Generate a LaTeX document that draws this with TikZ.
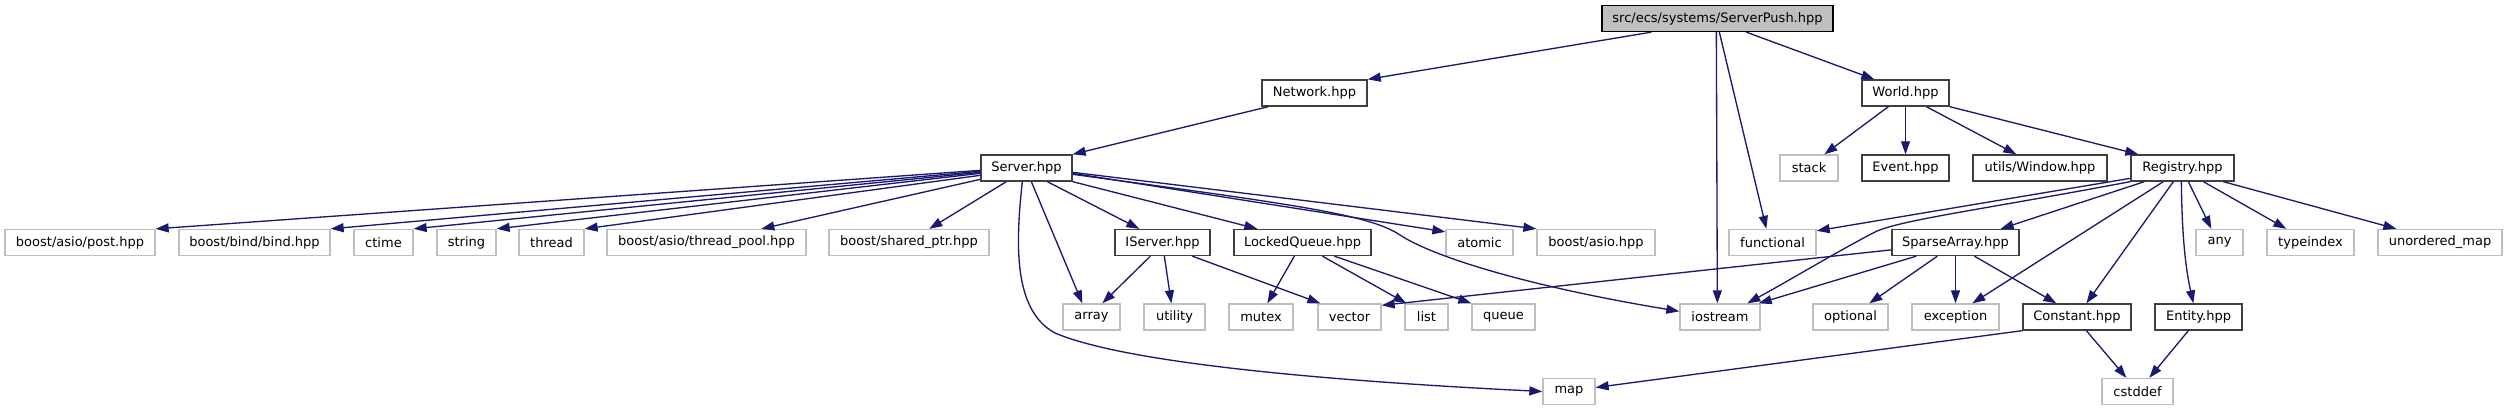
\documentclass[tikz,border=0pt]{standalone}
\usepackage{fontspec}
\setmainfont{DejaVu Sans}
\usetikzlibrary{arrows.meta}
\definecolor{edgec}{RGB}{25,25,112}
\definecolor{gdark}{RGB}{64,64,64}
\definecolor{glight}{RGB}{191,191,191}
\tikzset{
  box/.style={draw, line width=1.33pt, minimum height=26pt, inner sep=0pt, fill=white, text=black, font=\fontsize{13}{15}\selectfont},
  sys/.style={box, draw=glight},
  prj/.style={box, draw=gdark},
  rootbox/.style={box, draw=black, fill=glight},
  e/.style={draw=edgec, line width=1.33pt, -{Triangle[length=13pt,width=9pt]}}
}
\begin{document}
\begin{tikzpicture}[x=1pt,y=-1pt]
\useasboundingbox (0,0) rectangle (2507,411);
% row 0
\node[rootbox, minimum width=231pt] (sp) at (1717.5,18.5) {src/ecs/systems/ServerPush.hpp};
% row 1
\node[prj, minimum width=105pt] (net) at (1314.5,93) {Network.hpp};
\node[prj, minimum width=87pt] (world) at (1905.5,93) {World.hpp};
% row 2
\node[prj, minimum width=91pt] (server) at (1026.5,168) {Server.hpp};
\node[sys, minimum width=58pt] (stack) at (1809,168) {stack};
\node[prj, minimum width=87pt] (event) at (1905.5,168) {Event.hpp};
\node[prj, minimum width=134pt] (window) at (2040,168) {utils/Window.hpp};
\node[prj, minimum width=103pt] (registry) at (2182.5,168) {Registry.hpp};
% row 3
\node[sys, minimum width=150pt] (post) at (80,242.5) {boost/asio/post.hpp};
\node[sys, minimum width=151pt] (bind) at (254.5,242.5) {boost/bind/bind.hpp};
\node[sys, minimum width=59pt] (ctime) at (383.5,242.5) {ctime};
\node[sys, minimum width=59pt] (string) at (466.5,242.5) {string};
\node[sys, minimum width=65pt] (thread) at (551.5,242.5) {thread};
\node[sys, minimum width=199pt] (tpool) at (706.5,242.5) {boost/asio/thread\_pool.hpp};
\node[sys, minimum width=160pt] (sptr) at (909,242.5) {boost/shared\_ptr.hpp};
\node[prj, minimum width=95pt] (iserver) at (1162.5,242.5) {IServer.hpp};
\node[prj, minimum width=137pt] (lq) at (1302.5,242.5) {LockedQueue.hpp};
\node[sys, minimum width=67pt] (atomic) at (1479.5,242.5) {atomic};
\node[sys, minimum width=118pt] (asio) at (1596,242.5) {boost/asio.hpp};
\node[sys, minimum width=87pt] (functional) at (1772.5,242.5) {functional};
\node[prj, minimum width=127pt] (sparse) at (1955.5,242.5) {SparseArray.hpp};
\node[sys, minimum width=47pt] (any) at (2219.5,242.5) {any};
\node[sys, minimum width=87pt] (typeindex) at (2310.5,242.5) {typeindex};
\node[sys, minimum width=124pt] (umap) at (2440,242.5) {unordered\_map};
% row 4
\node[sys, minimum width=57pt] (array) at (1091.5,317) {array};
\node[sys, minimum width=61pt] (utility) at (1174.5,317) {utility};
\node[sys, minimum width=64pt] (mutex) at (1261,317) {mutex};
\node[sys, minimum width=63pt] (vector) at (1349.5,317) {vector};
\node[sys, minimum width=43pt] (list) at (1426.5,317) {list};
\node[sys, minimum width=63pt] (queue) at (1503.5,317) {queue};
\node[sys, minimum width=80pt] (iostream) at (1720,317) {iostream};
\node[sys, minimum width=75pt] (optional) at (1850.5,317) {optional};
\node[sys, minimum width=87pt] (exception) at (1955.5,317) {exception};
\node[prj, minimum width=108pt] (constant) at (2077,317) {Constant.hpp};
\node[prj, minimum width=87pt] (entity) at (2198.5,317) {Entity.hpp};
% row 5
\node[sys, minimum width=52pt] (map) at (1569,391.5) {map};
\node[sys, minimum width=71pt] (cstddef) at (2137.5,391.5) {cstddef};

% edges from ServerPush
\draw[e] ([xshift=50pt]sp.south west) -- (net.north east);
\draw[e] ([xshift=115pt]sp.south west) -- ([xshift=38pt]iostream.north west);
\draw[e] ([xshift=118pt]sp.south west) -- ([xshift=38pt]functional.north west);
\draw[e] ([xshift=145pt]sp.south west) -- ([xshift=13pt]world.north west);
% Network
\draw[e] ([xshift=7pt]net.south west) -- (server.north east);
% World
\draw[e] ([xshift=27pt]world.south west) -- ([xshift=45pt]stack.north west);
\draw[e] (world.south) -- (event.north);
\draw[e] ([xshift=65pt]world.south west) -- ([xshift=44pt]window.north west);
\draw[e] (world.south east) -- ([xshift=8pt]registry.north west);
% Server
\draw[e] ([yshift=-16pt]server.north west) -- (post.north east);
\draw[e] ([yshift=-17pt]server.north west) -- (bind.north east);
\draw[e] ([yshift=-18pt]server.north west) -- (ctime.north east);
\draw[e] ([yshift=-19pt]server.north west) -- (string.north east);
\draw[e] ([yshift=-21pt]server.north west) -- (thread.north east);
\draw[e] ([yshift=-25pt]server.north west) -- ([xshift=155pt]tpool.north west);
\draw[e] ([xshift=26pt]server.south west) -- ([xshift=101pt]sptr.north west);
\draw[e] ([xshift=51pt]server.south west) -- ([xshift=20pt]array.north west);
\draw[e] ([xshift=42pt]server.south west) .. controls (1016,240) and (1012,310) .. (1055,333) .. controls (1130,365) and (1350,382) .. (map.west);
\draw[e] ([xshift=67pt]server.south west) -- ([xshift=25pt]iserver.north west);
\draw[e] (server.south east) -- ([xshift=24pt]lq.north west);
\draw[e] ([yshift=-19pt]server.north east) -- ([yshift=-3pt]atomic.north west);
\draw[e] ([yshift=-18pt]server.north east) -- (asio.north west);
\draw[e] ([yshift=-20pt]server.north east) .. controls (1300,205) and (1370,215) .. (1400,235) .. controls (1430,255) and (1520,285) .. ([yshift=-8pt]iostream.north west);
% IServer
\draw[e] ([xshift=36pt]iserver.south west) -- ([xshift=40pt]array.north west);
\draw[e] ([xshift=50pt]iserver.south west) -- ([xshift=28pt]utility.north west);
\draw[e] ([xshift=78pt]iserver.south west) -- ([xshift=3pt]vector.north west);
% LockedQueue
\draw[e] ([xshift=61pt]lq.south west) -- ([xshift=39pt]mutex.north west);
\draw[e] ([xshift=89pt]lq.south west) -- ([xshift=2pt]list.north west);
\draw[e] ([xshift=101pt]lq.south west) -- (queue.north west);
% SparseArray
\draw[e] ([yshift=-21pt]sparse.north west) -- ([yshift=-2pt]vector.north east);
\draw[e] ([xshift=25pt]sparse.south west) -- ([xshift=-2pt]iostream.north east);
\draw[e] ([xshift=46pt]sparse.south west) -- ([xshift=57pt]optional.north west);
\draw[e] (sparse.south) -- (exception.north);
\draw[e] ([xshift=83pt]sparse.south west) -- ([xshift=34pt]constant.north west);
% Registry
\draw[e] ([yshift=-24pt]registry.north west) -- ([yshift=-2pt]functional.north east);
\draw[e] (registry.south west) .. controls (1980,210) and (1900,220) .. (1875,232) .. controls (1840,250) and (1790,280) .. ([xshift=68pt]iostream.north west);
\draw[e] ([xshift=14pt]registry.south west) -- ([xshift=-19pt]sparse.north east);
\draw[e] ([xshift=33pt]registry.south west) -- ([xshift=61pt]exception.north west);
\draw[e] ([xshift=43pt]registry.south west) -- ([xshift=64pt]constant.north west);
\draw[e] ([xshift=51pt]registry.south west) .. controls (2182,240) and (2186,270) .. ([xshift=39pt]entity.north west);
\draw[e] ([xshift=58pt]registry.south west) -- ([xshift=16pt]any.north west);
\draw[e] ([xshift=73pt]registry.south west) -- ([xshift=20pt]typeindex.north west);
\draw[e] ([xshift=93pt]registry.south west) -- ([xshift=19pt]umap.north west);
% Constant / Entity
\draw[e] (constant.south west) -- ([yshift=4pt]map.east);
\draw[e] ([xshift=64pt]constant.south west) -- ([xshift=25pt]cstddef.north west);
\draw[e] ([xshift=34pt]entity.south west) -- ([xshift=48pt]cstddef.north west);
\end{tikzpicture}
\end{document}
